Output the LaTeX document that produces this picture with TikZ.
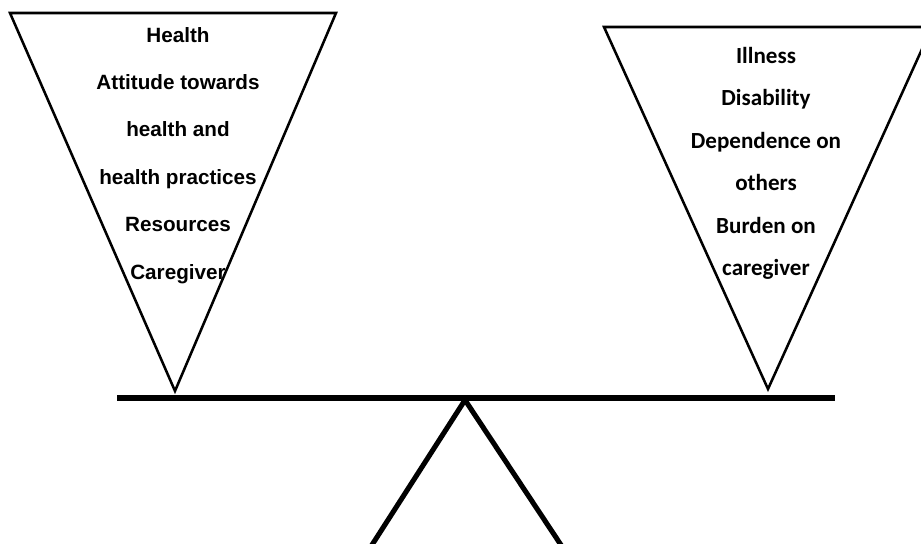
\documentclass[tikz,border=0pt]{standalone}
\usepackage{fontspec}
\newfontfamily\leftfont{Liberation Sans}
\newfontfamily\rightfont{Carlito}
\usepackage{tikz}

\begin{document}
\begin{tikzpicture}[
    x=0.75pt,y=-0.75pt,
    cupline/.style={line width=1.9pt},
    beamline/.style={line width=5.2pt},
    legline/.style={line width=3.8pt},
    lefttext/.style={font=\leftfont\bfseries\fontsize{15.5}{18}\selectfont,
      anchor=base,inner sep=0pt},
    righttext/.style={font=\rightfont\bfseries\fontsize{17.3}{20}\selectfont,
      anchor=base,inner sep=0pt}
  ]
    \useasboundingbox (0,0) rectangle (921,543);
    \clip (0,0) rectangle (921,543);
    % the two cups
    \draw[cupline] (10,13) -- (336,13) -- (175,391) -- cycle;
    \draw[cupline] (604,27) -- (932,27) -- (768,389) -- cycle;
    % beam and stand
    \draw[beamline] (117,398) -- (835,398);
    \draw[legline] (370,548) -- (465,400) -- (563,548);
    \foreach \txt [count=\i] in {Health,Attitude towards,health and,
      health practices,Resources,Caregiver} {
      \pgfmathsetmacro{\ybase}{42+47.4*(\i-1)}
      \node[lefttext] (left\i) at (178,\ybase) {\txt};
    }
    \foreach \txt [count=\i] in {Illness,Disability,Dependence on,
      others,Burden on,caregiver} {
      \pgfmathsetmacro{\ybase}{63+42.5*(\i-1)}
      \node[righttext] (right\i) at (766,\ybase) {\txt};
    }
  \end{tikzpicture}
\end{document}
